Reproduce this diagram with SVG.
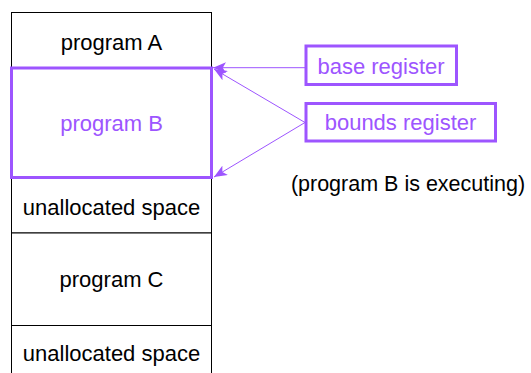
<svg xmlns="http://www.w3.org/2000/svg" width="531" height="373" viewBox="0 0 531 373">
<style>
.t{font-family:"Liberation Sans",Arial,sans-serif;font-size:22px;text-anchor:middle;fill:#000}
.p{fill:#9d55ff}
.cell{fill:#fff;stroke:#000;stroke-width:1}
.reg{fill:#fff;stroke:#9d55ff;stroke-width:3}
.con{stroke:#9d55ff;stroke-width:1;fill:none;marker-end:url(#ah)}
</style>
<defs>
<marker id="ah" viewBox="0 0 12 10" refX="12" refY="5" markerWidth="13" markerHeight="11" markerUnits="userSpaceOnUse" orient="auto">
<path d="M0,0 L12,5 L0,10 L3,5 z" fill="#9d55ff"/>
</marker>
</defs>
<rect x="0" y="0" width="531" height="373" fill="#fff"/>
<g id="programA"><rect class="cell" x="11.5" y="12.5" width="200" height="56"/><text class="t" x="111.5" y="49.5">program A</text></g>
<g id="unalloc1"><rect class="cell" x="11.5" y="177.5" width="200" height="55.5"/><text class="t" x="111.5" y="214.5">unallocated space</text></g>
<g id="programC"><rect class="cell" x="11.5" y="233" width="200" height="92.5"/><text class="t" x="111.5" y="287">program C</text></g>
<g id="unalloc2"><rect class="cell" x="11.5" y="325.5" width="200" height="60"/><text class="t" x="111.5" y="361">unallocated space</text></g>
<g id="programB"><rect class="reg" x="11.5" y="68" width="200" height="109.5"/><text class="t p" x="111.5" y="131">program B</text></g>
<g id="base"><rect class="reg" x="306" y="46" width="150.5" height="38.5"/><text class="t p" x="381" y="73.5">base register</text></g>
<g id="bounds"><rect class="reg" x="306" y="103.5" width="189.5" height="37.5"/><text class="t p" x="400.5" y="129.5">bounds register</text></g>
<g id="note"><text class="t" x="408" y="191" style="font-size:21.5px">(program B is executing)</text></g>
<g id="connectors">
<line class="con" x1="305" y1="67.7" x2="213" y2="67.7"/>
<line class="con" x1="305" y1="122.5" x2="214" y2="69"/>
<line class="con" x1="305" y1="122.5" x2="214" y2="177"/>
</g>
</svg>
